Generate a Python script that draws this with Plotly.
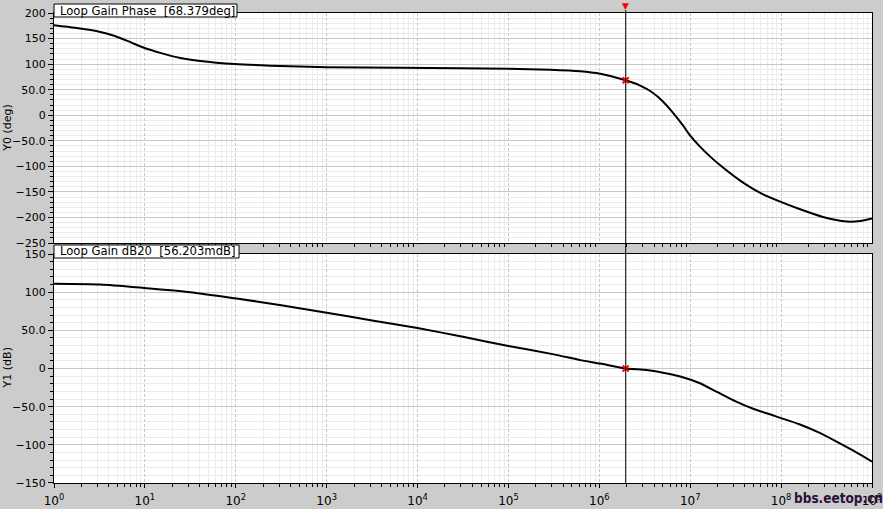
import plotly.graph_objects as go
import math

# ---- data ----
phase_logf = [0.0, 0.23, 0.51, 0.67, 0.84, 0.99, 1.17, 1.39, 1.61, 1.99, 2.38, 3.0, 3.81,
              4.47, 5.0, 5.46, 5.79, 6.01, 6.29, 6.45, 6.58, 6.70, 6.80, 6.92, 7.0, 7.11,
              7.22, 7.33, 7.55, 7.77, 7.99, 8.21, 8.46, 8.72, 8.87, 9.0]
phase_deg = [176, 171, 163, 155, 143, 132, 122, 112, 106, 100, 97, 94, 93,
             92, 91, 89, 86, 81, 68.4, 58, 45, 27, 7, -20, -40, -62,
             -81, -98, -128, -152, -169, -184, -199, -208, -207, -202]

gain_logf = [0.0, 0.51, 0.99, 1.5, 1.99, 2.5, 3.0, 3.5, 4.0, 4.5, 5.0, 5.5, 5.79, 6.01, 6.29,
             6.52, 6.70, 6.89, 7.1, 7.3, 7.5, 7.7, 7.9, 8.0, 8.2, 8.4, 8.6, 8.8, 9.0]
gain_db = [111, 110, 105.5, 100, 92, 83, 73, 63, 53, 41.5, 29.5, 18.5, 11, 6.5, 0.056,
           -2, -5.5, -10.5, -19, -31, -43, -53, -61, -65, -73, -83, -95, -108, -122]

cursor_freq = 1.95e6
cursor_phase = 68.379
cursor_gain = 0.056

x_tick_exps = [0, 1, 2, 3, 4, 5, 6, 7, 8, 9]
y0_ticks = [200, 150, 100, 50, 0, -50, -100, -150, -200, -250]
y0_text = ["200", "150", "100", "50.0", "0", "\u221250.0", "\u2212100", "\u2212150", "\u2212200", "\u2212250"]
y1_ticks = [150, 100, 50, 0, -50, -100, -150]
y1_text = ["150", "100", "50.0", "0", "\u221250.0", "\u2212100", "\u2212150"]

phase_f = [10 ** v for v in phase_logf]
gain_f = [10 ** v for v in gain_logf]
x_tickvals = [10 ** e for e in x_tick_exps]
x_ticktext = ["10<sup>%d</sup>" % e for e in x_tick_exps]
minor_vals = [m * 10 ** e for e in x_tick_exps[:-1] for m in range(2, 10)]

FONT = "DejaVu Sans"
GRID = "#c8c8c8"
MINOR = "#ebebeb"
BG = "#cccccc"

fig = go.Figure()
fig.add_trace(go.Scatter(x=phase_f, y=phase_deg, mode="lines",
                         line=dict(color="black", width=2, shape="spline", smoothing=0.6),
                         xaxis="x", yaxis="y", hoverinfo="skip"))
fig.add_trace(go.Scatter(x=gain_f, y=gain_db, mode="lines",
                         line=dict(color="black", width=2, shape="spline", smoothing=0.6),
                         xaxis="x2", yaxis="y2", hoverinfo="skip"))
fig.add_trace(go.Scatter(x=[cursor_freq], y=[cursor_phase], mode="markers", xaxis="x", yaxis="y",
                         marker=dict(symbol="x-thin", size=6, color="red", line=dict(color="red", width=2))))
fig.add_trace(go.Scatter(x=[cursor_freq], y=[cursor_gain], mode="markers", xaxis="x2", yaxis="y2",
                         marker=dict(symbol="x-thin", size=6, color="red", line=dict(color="red", width=2))))

xcommon = dict(type="log", range=[0, 9], showline=True, linecolor="black", linewidth=1, mirror=True,
               showgrid=True, gridcolor=GRID, griddash="3px,2px", gridwidth=1, zeroline=False,
               tickmode="array", tickvals=x_tickvals, automargin=False,
               minor=dict(tickmode="array", tickvals=minor_vals, showgrid=True, gridcolor=MINOR,
                          griddash="solid", ticks="outside", ticklen=3, tickcolor="black"))
ycommon = dict(showline=True, linecolor="black", linewidth=1, mirror=True, zeroline=False,
               showgrid=True, gridcolor=GRID, griddash="solid", gridwidth=1, ticks="outside", ticklen=5,
               tickcolor="black", tickfont=dict(family=FONT, size=11, color="black"), tickmode="array",
               automargin=False,
               minor=dict(dtick=10, showgrid=True, gridcolor=MINOR, griddash="solid", ticks="outside",
                          ticklen=3, tickcolor="black"))

fig.update_layout(
    width=883, height=509, margin=dict(l=54, r=11, t=13, b=26, autoexpand=False),
    paper_bgcolor=BG, plot_bgcolor="white", showlegend=False,
    xaxis=dict(xcommon, anchor="y", showticklabels=False, ticks=""),
    xaxis2=dict(xcommon, anchor="y2", matches="x", ticktext=x_ticktext, ticks="outside", ticklen=4,
                ticklabelstandoff=3,
                tickcolor="black", tickfont=dict(family=FONT, size=12, color="black")),
    yaxis=dict(ycommon, domain=[0.5106, 1], range=[-250, 200], tickvals=y0_ticks, ticktext=y0_text, anchor="x"),
    yaxis2=dict(ycommon, domain=[0, 0.4872], range=[-150, 150], tickvals=y1_ticks, ticktext=y1_text, anchor="x2"),
)

# cursor line (shapes on this log axis take data values) and flag (annotations take log values)
fig.add_shape(type="line", xref="x", yref="paper", x0=cursor_freq, x1=cursor_freq, y0=0, y1=1.006,
              line=dict(color="black", width=1), layer="above")
fig.add_annotation(xref="x", yref="paper", x=math.log10(cursor_freq), y=1.0, yanchor="bottom",
                   text="\u25BC", showarrow=False, font=dict(family=FONT, size=9, color="red"))

# title tab boxes
fig.add_shape(type="rect", xref="paper", yref="paper", x0=0, x1=0.2237, y0=0.9915, y1=1.0191,
              fillcolor="white", line=dict(color="black", width=1), layer="above")
fig.add_shape(type="rect", xref="paper", yref="paper", x0=0, x1=0.2262, y0=0.4787, y1=0.5064,
              fillcolor="white", line=dict(color="black", width=1), layer="above")
fig.add_annotation(xref="paper", yref="paper", x=0.005, y=1.0053, xanchor="left", yanchor="middle",
                   text="Loop Gain Phase  [68.379deg]", showarrow=False,
                   font=dict(family=FONT, size=11.6, color="black"))
fig.add_annotation(xref="paper", yref="paper", x=0.005, y=0.4926, xanchor="left", yanchor="middle",
                   text="Loop Gain dB20  [56.203mdB]", showarrow=False,
                   font=dict(family=FONT, size=11.6, color="black"))

# axis titles
fig.add_annotation(xref="paper", yref="paper", x=-0.0568, y=0.755, xanchor="center", yanchor="middle",
                   textangle=-90, showarrow=False,
                   text="Y0 (deg)", font=dict(family=FONT, size=11, color="black"))
fig.add_annotation(xref="paper", yref="paper", x=-0.0568, y=0.245, xanchor="center", yanchor="middle",
                   textangle=-90, showarrow=False,
                   text="Y1 (dB)", font=dict(family=FONT, size=11, color="black"))
fig.add_annotation(xref="paper", yref="paper", x=0.5, y=-0.056, yanchor="top", showarrow=False,
                   text="freq (Hz)", font=dict(family=FONT, size=11, color="black"))

# watermark
fig.add_annotation(xref="paper", yref="paper", x=1.0165, y=-0.031, xanchor="right", yanchor="middle",
                   showarrow=False, text="<b>bbs.eetop.cn</b>",
                   font=dict(family="Liberation Sans Narrow, DejaVu Sans Condensed, sans-serif",
                             size=13.5, color="#2b0f3a"))

fig.write_html("out.html", config={"displayModeBar": False},
               post_script="document.body.style.margin='0';document.body.style.background='#cccccc';")
